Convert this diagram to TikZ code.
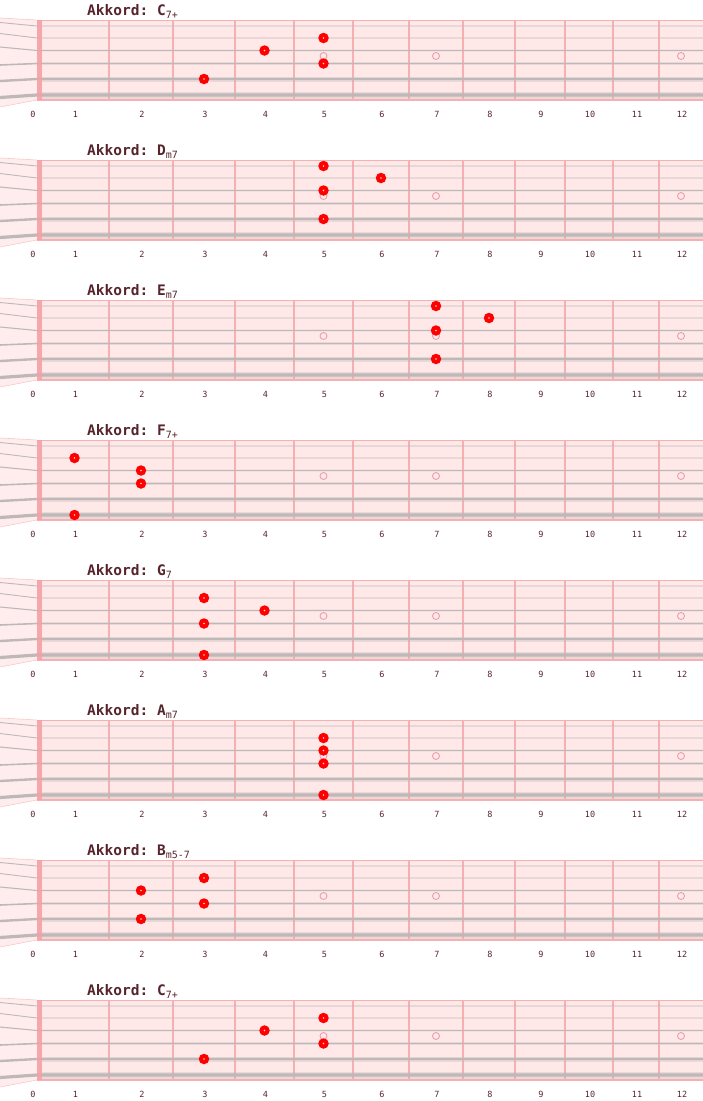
\documentclass[tikz,border=0pt]{standalone}
\usepackage{fontspec}
\setmonofont{DejaVu Sans Mono}
\usetikzlibrary{calc}

\definecolor{boardpink}{RGB}{255,232,232}
\definecolor{headpink}{RGB}{255,237,237}
\definecolor{fretpink}{RGB}{247,176,178}
\definecolor{nutpink}{RGB}{244,160,166}
\definecolor{stringgray}{RGB}{190,184,184}
\definecolor{inlaypink}{RGB}{236,160,172}
\definecolor{labelbrown}{RGB}{88,36,44}

\begin{document}
\begin{tikzpicture}[x=1pt, y=-1pt,
    board/.style = {fill=boardpink, draw=none},
    edgeline/.style = {draw=fretpink, line width=#1},
    headstock/.style = {fill=headpink, draw=none},
    fretline/.style = {draw=fretpink, line width=2pt},
    nutbar/.style = {fill=nutpink, draw=none, opacity=0.9},
    guitarstring/.style = {draw=stringgray, line width=#1},
    inlay/.style = {circle, draw=inlaypink, line width=0.9pt, inner sep=0pt, minimum size=7pt},
    fingerdot/.style = {circle, fill=red, inner sep=0pt, minimum size=10.5pt,
        path picture={\fill[red!20!white] (path picture bounding box.center) circle (0.9pt);}},
    chordtitle/.style = {anchor=base west, inner sep=0pt, text=labelbrown, font=\ttfamily\bfseries\fontsize{14.5}{14.5}\selectfont},
    fretnum/.style = {anchor=base, inner sep=0pt, text=labelbrown, font=\ttfamily\fontsize{8.5}{8.5}\selectfont}
]
\useasboundingbox (0,0) rectangle (703,1101);

% fret centres and string heights
\def\midx{{32,74.5,141,204,264.5,323.5,381,436,489,540,589,636,681}}
\def\stry{{0,26,38,50.5,63.5,79,95}}

% one fretboard per chord
\foreach \p/\tone/\qual/\fingers in {
    0/C/{7+}/{5/2,4/3,5/4,3/5},
    1/D/{m7}/{5/1,6/2,5/3,5/5},
    2/E/{m7}/{7/1,8/2,7/3,7/5},
    3/F/{7+}/{1/2,2/3,2/4,1/6},
    4/G/{7}/{3/2,4/3,3/4,3/6},
    5/A/{m7}/{5/2,5/3,5/4,5/6},
    6/B/{m5-7}/{3/2,2/3,3/4,2/5},
    7/C/{7+}/{5/2,4/3,5/4,3/5}}{
\begin{scope}[yshift={-140*\p}]
    % Title
    \node (title\p) [chordtitle] at (87,15) {Akkord: \tone\raisebox{-3.5pt}{\mdseries\fontsize{10}{10}\selectfont\qual}};

    % Board
    \path[headstock] (0,18) -- (37,20) -- (37,100) -- (0,107) -- cycle;
    \draw[edgeline=0.6pt, fretpink!70] (0,18) -- (37,20);
    \draw[edgeline=0.6pt, fretpink!70] (0,107) -- (37,100);
    \path[board] (37,20) rectangle (703,100);
    \draw[edgeline=1pt] (37,20) -- (703,20);
    \draw[edgeline=1.6pt] (37,100) -- (703,100);
    \foreach \x in {109,173,235,294,353,409,463,515,565,613,659}
        \draw[fretline] (\x,20) -- (\x,100);

    % Strings
    \foreach \s/\ly/\w in {1/22.5/0.9, 2/33.5/0.9, 3/47/1.1, 4/65/1.6, 5/81/2.4, 6/97.5/3.2}{
        \pgfmathsetmacro\sy{\stry[\s]}
        \draw[guitarstring=\w pt] (0,\ly) -- (37,\sy) -- (703,\sy);
    }
    \draw[guitarstring=5pt, opacity=0.3] (42,79) -- (703,79);
    \draw[guitarstring=7pt, opacity=0.3] (42,95) -- (703,95);
    \path[nutbar] (37,20) rectangle (42,100);

    % Inlays
    \foreach \f in {5,7,12}{
        \pgfmathsetmacro\ix{\midx[\f]}
        \node (inlay\p-\f) [inlay] at (\ix,56) {};
    }

    % Fingers
    \foreach \f/\s in \fingers{
        \pgfmathsetmacro\dx{\midx[\f]}
        \pgfmathsetmacro\dy{\stry[\s]}
        \node (dot\p-\f-\s) [fingerdot] at (\dx,\dy) {};
    }

    % Fret numbers
    \foreach \n in {0,...,12}{
        \pgfmathsetmacro\nx{\midx[\n]+1}
        \node (num\p-\n) [fretnum] at (\nx,117) {\n};
    }
\end{scope}
}
\end{tikzpicture}
\end{document}
